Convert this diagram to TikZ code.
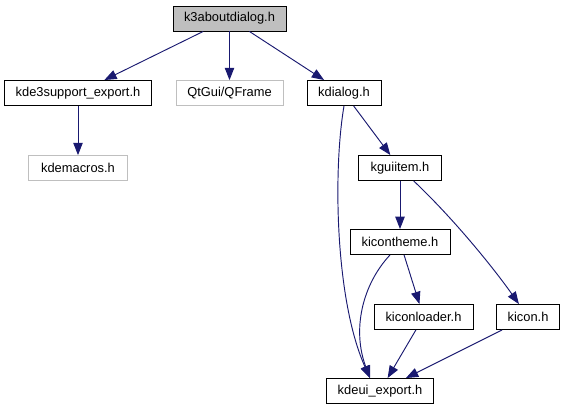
\documentclass[tikz,border=0pt]{standalone}
\usepackage{fontspec}
\setmainfont{Liberation Sans}
\usetikzlibrary{arrows.meta}
\definecolor{edgeblue}{HTML}{191970}
\definecolor{boxgray}{HTML}{BFBFBF}
\tikzset{
    file/.style={
        rectangle, draw=black, fill=white, line width=0.8pt,
        minimum height=0.75cm, inner sep=0pt,
        text centered, font=\fontsize{11}{13}\selectfont
    },
    extfile/.style={
        file, draw=boxgray, line width=0.6pt
    },
    mainfile/.style={
        file, fill=boxgray
    },
    dep/.style={-{Triangle[length=10.5pt, width=8pt]}, draw=edgeblue, line width=0.8pt}
}

\begin{document}
\begin{tikzpicture}[x=0.03cm, y=-0.03cm]
    \useasboundingbox (0,0) rectangle (567,411);

    % Top row
    \node[mainfile, minimum width=3.39cm] (k3about) at (229.5,18.5) {k3aboutdialog.h};
    \node[file, minimum width=4.41cm] (kde3support) at (78,93) {kde3support\_export.h};
    \node[extfile, minimum width=3.21cm] (qframe) at (229.5,93) {QtGui/QFrame};
    \node[file, minimum width=2.22cm] (kdialog) at (344,93) {kdialog.h};

    % Middle rows
    \node[extfile, minimum width=2.97cm] (kdemacros) at (78,168) {kdemacros.h};
    \node[file, minimum width=2.49cm] (kguiitem) at (400,168) {kguiitem.h};
    \node[file, minimum width=3.0cm] (kicontheme) at (400,242) {kicontheme.h};
    \node[file, minimum width=2.97cm] (kiconloader) at (423.5,317) {kiconloader.h};
    \node[file, minimum width=1.89cm] (kicon) at (528,317) {kicon.h};

    % Bottom
    \node[file, minimum width=3.21cm] (kdeui) at (380,391) {kdeui\_export.h};

    \draw[dep] (k3about) -- (kde3support);
    \draw[dep] (k3about) -- (qframe);
    \draw[dep] (k3about) -- (kdialog);
    \draw[dep] (kde3support) -- (kdemacros);
    \draw[dep] (kdialog) -- (kguiitem);
    \draw[dep] (kdialog.south) .. controls (333,170) and (335,300) .. ([xshift=-0.3cm]kdeui.north);
    \draw[dep] (kguiitem) -- (kicontheme);
    \draw[dep] (kguiitem) .. controls (455,220) and (495,270) .. (kicon);
    \draw[dep] ([xshift=-0.3cm]kicontheme.south) .. controls (362,285) and (352,330) .. ([xshift=-0.3cm]kdeui.north);
    \draw[dep] (kicontheme) -- (kiconloader);
    \draw[dep] (kiconloader) -- (kdeui);
    \draw[dep] (kicon) -- (kdeui);
\end{tikzpicture}
\end{document}
